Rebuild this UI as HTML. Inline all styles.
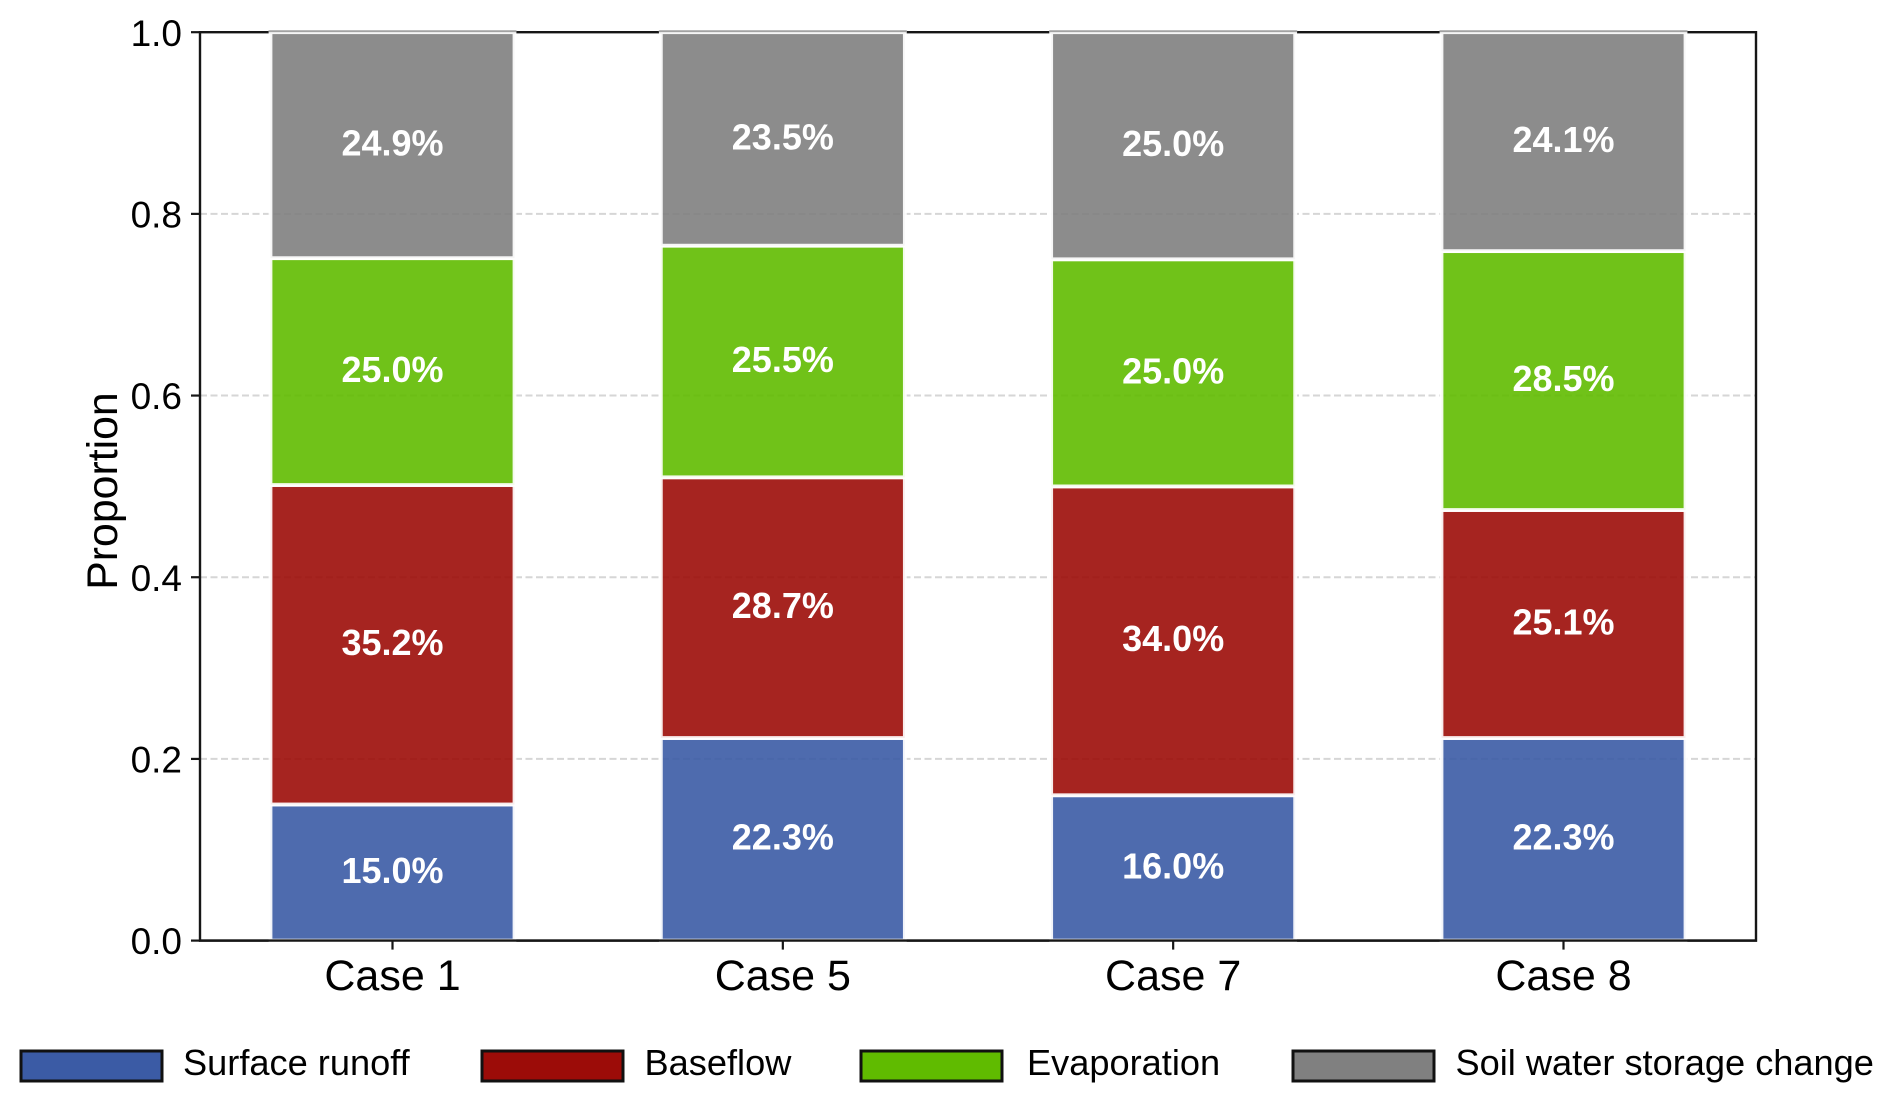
<!DOCTYPE html>
<html lang="en">
<head>
<meta charset="utf-8">
<title>Water balance proportion by case</title>
<style>
html,body{margin:0;padding:0;background:#fff;width:1892px;height:1102px;overflow:hidden}
svg{display:block;font-family:"Liberation Sans",Arial,sans-serif}
</style>
</head>
<body>
<svg id="chart" xmlns="http://www.w3.org/2000/svg" width="1892" height="1102" viewBox="0 0 1892 1102"></svg>
<script>
const categories = ["Case 1", "Case 5", "Case 7", "Case 8"];
const seriesNames = ["Surface runoff", "Baseflow", "Evaporation", "Soil water storage change"];
const surfaceRunoff = [15.0, 22.3, 16.0, 22.3];
const baseflow = [35.2, 28.7, 34.0, 25.1];
const evaporation = [25.0, 25.5, 25.0, 28.5];
const soilWaterStorageChange = [24.9, 23.5, 25.0, 24.1];
const yTickValues = [0.0, 0.2, 0.4, 0.6, 0.8, 1.0];

const NS = "http://www.w3.org/2000/svg";
const svg = document.getElementById("chart");
const allSeries = [surfaceRunoff, baseflow, evaporation, soilWaterStorageChange];
const seriesColors = ["#3b5ba5", "#9c0c08", "#60bb00", "#808080"];
const seriesKeys = ["surface-runoff", "baseflow", "evaporation", "soil-water"];

const plot = {left: 200, right: 1756, top: 32.2, bottom: 940.6};
const yScale = v => plot.bottom - v * (plot.bottom - plot.top);
const xMargin = 192.5;
const xStep = (plot.right - plot.left - 2 * xMargin) / (categories.length - 1);
const xCenter = i => plot.left + xMargin + i * xStep;
const barWidth = 244;

function make(tag, attrs, parent, text) {
  const el = document.createElementNS(NS, tag);
  for (const k in attrs) el.setAttribute(k, attrs[k]);
  if (text !== undefined) el.textContent = text;
  (parent || svg).appendChild(el);
  return el;
}

/* background */
const bg = make("rect", {x: 0, y: 0, width: 1892, height: 1102, fill: "#fff"});



/* grid lines */
yTickValues.forEach(v => {
  if (v === 0 || v === 1) return;
  const g = make("line", {x1: plot.left, x2: plot.right, y1: yScale(v), y2: yScale(v), stroke: "#d6d6d6", "stroke-width": 2, "stroke-dasharray": "7 3.5"});
  
  
});

/* axes frame */
const frame = make("rect", {x: plot.left, y: plot.top, width: plot.right - plot.left, height: plot.bottom - plot.top, fill: "none", stroke: "#161616", "stroke-width": 2.4});



/* bars */
categories.forEach((cat, i) => {
  const total = allSeries.reduce((s, arr) => s + arr[i], 0);
  let cum = 0;
  allSeries.forEach((arr, s) => {
    const start = cum / total;
    cum += arr[i];
    const end = cum / total;
    const yTop = yScale(end), yBot = yScale(start);
    const r = make("rect", {x: xCenter(i) - barWidth / 2, y: yTop, width: barWidth, height: yBot - yTop, fill: seriesColors[s], "fill-opacity": 0.9, stroke: "#fff", "stroke-opacity": 0.92, "stroke-width": 3.8});
    
    
  });
  /* frame shows through the bar edge as a grey line along the top */
  const strip = make("line", {x1: xCenter(i) - barWidth / 2 - 2, x2: xCenter(i) + barWidth / 2 + 2, y1: plot.top - 1, y2: plot.top - 1, stroke: "#a2a2a2", "stroke-width": 1.8});
  
  
});

/* bottom axis redraw over bars */
const bottomLine = make("line", {x1: plot.left - 1, x2: plot.right + 1, y1: plot.bottom, y2: plot.bottom, stroke: "#161616", "stroke-width": 2.4});



/* value labels */
categories.forEach((cat, i) => {
  const total = allSeries.reduce((s, arr) => s + arr[i], 0);
  let cum = 0;
  allSeries.forEach((arr, s) => {
    const start = cum / total;
    cum += arr[i];
    const end = cum / total;
    const yMid = (yScale(start) + yScale(end)) / 2;
    const t = make("text", {x: xCenter(i), y: yMid + 10.4, "text-anchor": "middle", "font-size": 36, "font-weight": "bold", fill: "#fff"}, svg, arr[i].toFixed(1) + "%");
    
    
  });
});

/* y ticks */
yTickValues.forEach(v => {
  const y = yScale(v);
  const tk = make("line", {x1: plot.left - 9, x2: plot.left, y1: y, y2: y, stroke: "#161616", "stroke-width": 2.2});
  
  
  const t = make("text", {x: 182, y: y + 13.6, "text-anchor": "end", "font-size": 37, fill: "#000"}, svg, v.toFixed(1));
  
  
});

/* x ticks */
categories.forEach((cat, i) => {
  const x = xCenter(i);
  const tk = make("line", {x1: x, x2: x, y1: plot.bottom, y2: plot.bottom + 9, stroke: "#161616", "stroke-width": 2.2});
  
  
  const t = make("text", {x: x, y: 990, "text-anchor": "middle", "font-size": 43, fill: "#000"}, svg, cat);
  
  
});

/* y axis title */
const yTitle = make("text", {transform: "translate(117 491) rotate(-90)", "text-anchor": "middle", "font-size": 42.8, fill: "#000"}, svg, "Proportion");



/* legend */
const legendSwatchX = [21, 482, 861, 1293];
const legendTextX = [183, 644.5, 1027, 1455.5];
seriesNames.forEach((name, s) => {
  const g = make("g", {});
  
  
  const sw = make("rect", {x: legendSwatchX[s], y: 1051, width: 141, height: 30, fill: seriesColors[s], stroke: "#111", "stroke-width": 3}, g);
  
  
  const t = make("text", {x: legendTextX[s], y: 1075, "font-size": 36.2, fill: "#000"}, g, name);
  
  
});
</script>
</body>
</html>
